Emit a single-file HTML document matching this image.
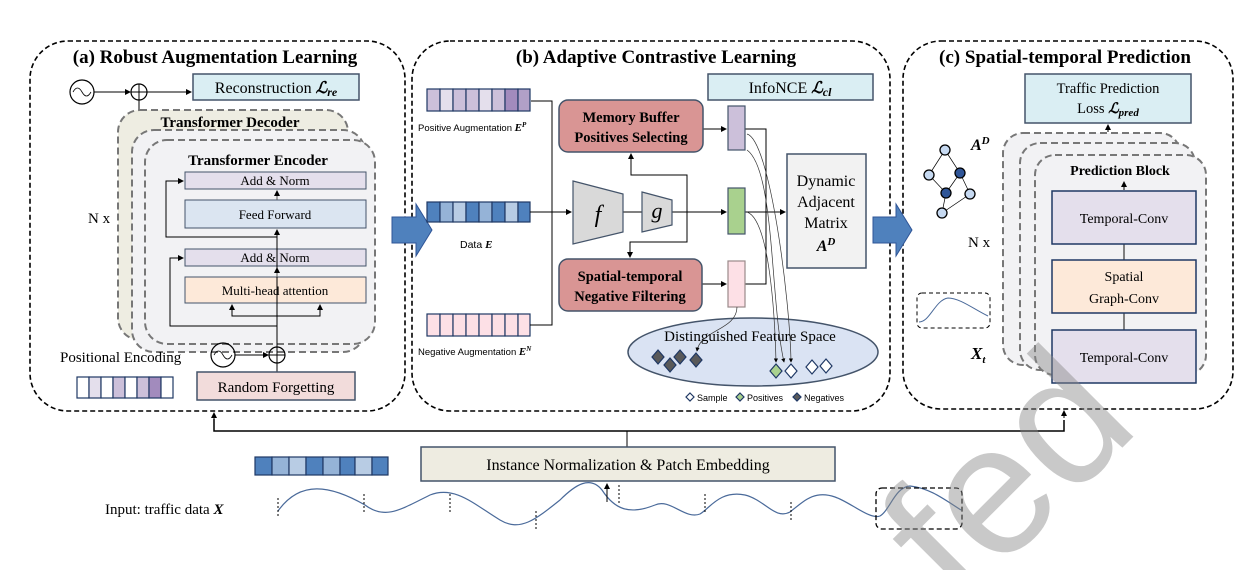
<!DOCTYPE html>
<html><head><meta charset="utf-8"><style>
html,body{margin:0;padding:0;background:#fff;overflow:hidden;width:1258px;height:570px;}
svg{display:block;overflow:hidden;}
.s{font-family:"Liberation Serif",serif;}
.a{font-family:"Liberation Sans",sans-serif;}
</style></head><body>
<svg width="1258" height="570" viewBox="0 0 1258 570" xmlns="http://www.w3.org/2000/svg">
<defs>
<marker id="ar" markerWidth="6" markerHeight="6" refX="5" refY="3" orient="auto"><path d="M0,0 L6,3 L0,6 z" fill="#000"/></marker>
</defs>
<g class="s" fill="none" stroke="#000">
<rect x="30" y="41" width="375" height="370" rx="38" stroke-width="1.6" stroke-dasharray="5,3"/>
<rect x="412" y="41" width="478" height="370" rx="38" stroke-width="1.6" stroke-dasharray="5,3"/>
<rect x="903" y="41" width="330" height="368" rx="38" stroke-width="1.6" stroke-dasharray="5,3"/>
</g>
<g class="s" font-weight="bold" font-size="19" text-anchor="middle" fill="#000">
<text x="215" y="63">(a) Robust Augmentation Learning</text>
<text x="656" y="63">(b) Adaptive Contrastive Learning</text>
<text x="1065" y="63">(c) Spatial-temporal Prediction</text>
</g>

<!-- ===== Panel A ===== -->
<circle cx="82" cy="92" r="12" fill="none" stroke="#000" stroke-width="1.2"/>
<path d="M73,92 q4.5,-8 9,0 t9,0" fill="none" stroke="#000" stroke-width="0.8"/>
<line x1="94" y1="92" x2="130" y2="92" stroke="#000" marker-end="url(#ar)"/>
<circle cx="139" cy="92" r="8" fill="none" stroke="#000" stroke-width="1.2"/>
<path d="M131,92 h16 M139,84 v16" stroke="#000"/>
<line x1="147" y1="92" x2="191" y2="92" stroke="#000" marker-end="url(#ar)"/>
<line x1="139" y1="100" x2="139" y2="110" stroke="#000"/>
<rect x="193" y="74" width="166" height="26" fill="#daeef3" stroke="#44546a" stroke-width="1.5"/>
<text x="276" y="93" class="s" font-size="16" text-anchor="middle">Reconstruction <tspan font-style="italic" font-weight="bold">ℒ</tspan><tspan font-style="italic" font-weight="bold" font-size="12" dy="3">re</tspan></text>

<rect x="118" y="110" width="230" height="230" rx="22" fill="#eeede2" stroke="#777" stroke-width="2" stroke-dasharray="7,4"/>
<rect x="132" y="130" width="233" height="222" rx="22" fill="#f2f2f4" stroke="#777" stroke-width="2" stroke-dasharray="7,4"/>
<rect x="145" y="140" width="230" height="204" rx="22" fill="#f2f2f4" stroke="#777" stroke-width="2" stroke-dasharray="7,4"/>
<text x="230" y="127" class="s" font-weight="bold" font-size="15" text-anchor="middle">Transformer Decoder</text>
<text x="258" y="165" class="s" font-weight="bold" font-size="15" text-anchor="middle">Transformer Encoder</text>
<text x="88" y="223" class="s" font-size="15">N x</text>

<rect x="185" y="172" width="181" height="17" fill="#e4dfec" stroke="#44546a"/>
<text x="275" y="185" class="s" font-size="13" text-anchor="middle">Add &amp; Norm</text>
<rect x="185" y="200" width="181" height="28" fill="#dbe5f1" stroke="#44546a"/>
<text x="275" y="219" class="s" font-size="13" text-anchor="middle">Feed Forward</text>
<rect x="185" y="249" width="181" height="17" fill="#e4dfec" stroke="#44546a"/>
<text x="275" y="262" class="s" font-size="13" text-anchor="middle">Add &amp; Norm</text>
<rect x="185" y="277" width="181" height="26" fill="#fde9d9" stroke="#44546a"/>
<text x="275" y="295" class="s" font-size="13" text-anchor="middle">Multi-head attention</text>
<g stroke="#000" fill="none" stroke-width="1">
<line x1="277" y1="347" x2="277" y2="237"/>
<line x1="277" y1="237" x2="277" y2="230" marker-end="url(#ar)"/>
<line x1="277" y1="200" x2="277" y2="191" marker-end="url(#ar)" stroke="#555"/>
<line x1="277" y1="277" x2="277" y2="268" marker-end="url(#ar)" stroke="#555"/>
<path d="M277,237 H166 V181 H183" marker-end="url(#ar)"/>
<path d="M277,326 H170 V258 H183" marker-end="url(#ar)"/>
<path d="M232,305 V316 H320 V305" />
<line x1="232" y1="316" x2="232" y2="305" marker-end="url(#ar)"/>
<line x1="320" y1="316" x2="320" y2="305" marker-end="url(#ar)"/>
<line x1="277" y1="372" x2="277" y2="362"/>
</g>
<text x="60" y="362" class="s" font-size="15">Positional Encoding</text>
<circle cx="223" cy="355" r="12" fill="none" stroke="#000" stroke-width="1.2"/>
<path d="M214,355 q4.5,-8 9,0 t9,0" fill="none" stroke="#000" stroke-width="0.8"/>
<line x1="235" y1="355" x2="268" y2="355" stroke="#000" marker-end="url(#ar)"/>
<circle cx="277" cy="355" r="8" fill="none" stroke="#000" stroke-width="1.2"/>
<path d="M269,355 h16 M277,347 v16" stroke="#000"/>
<rect x="197" y="372" width="158" height="28" fill="#f2dcdb" stroke="#44546a" stroke-width="1.5"/>
<text x="276" y="392" class="s" font-size="15" text-anchor="middle">Random Forgetting</text>
<g stroke="#1f3864" stroke-width="1.2">
<rect x="77" y="377" width="12" height="21" fill="#fff"/><rect x="89" y="377" width="12" height="21" fill="#e4dfec"/><rect x="101" y="377" width="12" height="21" fill="#fff"/><rect x="113" y="377" width="12" height="21" fill="#ccc0da"/><rect x="125" y="377" width="12" height="21" fill="#fff"/><rect x="137" y="377" width="12" height="21" fill="#ccc0da"/><rect x="149" y="377" width="12" height="21" fill="#a28bbd"/><rect x="161" y="377" width="12" height="21" fill="#fff"/>
</g>

<path d="M392,217 H416 V204 L432,230 L416,256 V243 H392 Z" fill="#4f81bd" stroke="#2f5597"/>
<path d="M873,217 H896 V204 L912,230 L896,256 V243 H873 Z" fill="#4f81bd" stroke="#2f5597"/>

<!-- ===== Panel B ===== -->
<g stroke="#1f3864" stroke-width="1.2">
<rect x="427" y="89" width="13" height="22" fill="#ccc0da"/><rect x="440" y="89" width="13" height="22" fill="#e4dfec"/><rect x="453" y="89" width="13" height="22" fill="#ccc0da"/><rect x="466" y="89" width="13" height="22" fill="#ccc0da"/><rect x="479" y="89" width="13" height="22" fill="#e4dfec"/><rect x="492" y="89" width="13" height="22" fill="#ccc0da"/><rect x="505" y="89" width="13" height="22" fill="#a28bbd"/><rect x="518" y="89" width="12" height="22" fill="#b1a0c7"/>
<rect x="427" y="202" width="13" height="20" fill="#4f81bd"/><rect x="440" y="202" width="13" height="20" fill="#95b3d7"/><rect x="453" y="202" width="13" height="20" fill="#b8cce4"/><rect x="466" y="202" width="13" height="20" fill="#4f81bd"/><rect x="479" y="202" width="13" height="20" fill="#95b3d7"/><rect x="492" y="202" width="13" height="20" fill="#4f81bd"/><rect x="505" y="202" width="13" height="20" fill="#b8cce4"/><rect x="518" y="202" width="12" height="20" fill="#4f81bd"/>
<rect x="427" y="314" width="13" height="22" fill="#fde0e6"/><rect x="440" y="314" width="13" height="22" fill="#fde0e6"/><rect x="453" y="314" width="13" height="22" fill="#fde0e6"/><rect x="466" y="314" width="13" height="22" fill="#fde0e6"/><rect x="479" y="314" width="13" height="22" fill="#fde0e6"/><rect x="492" y="314" width="13" height="22" fill="#fde0e6"/><rect x="505" y="314" width="13" height="22" fill="#fde0e6"/><rect x="518" y="314" width="12" height="22" fill="#fde0e6"/>
</g>
<g class="a" font-size="9.5" fill="#000">
<text x="418" y="131">Positive Augmentation <tspan class="s" font-weight="bold" font-style="italic" font-size="11">E</tspan><tspan class="s" font-weight="bold" font-style="italic" font-size="7" dy="-4">P</tspan></text>
<text x="460" y="248" font-size="10.5">Data <tspan class="s" font-weight="bold" font-style="italic" font-size="11">E</tspan></text>
<text x="418" y="355">Negative Augmentation <tspan class="s" font-weight="bold" font-style="italic" font-size="11">E</tspan><tspan class="s" font-weight="bold" font-style="italic" font-size="7" dy="-4">N</tspan></text>
</g>
<g stroke="#000" fill="none" stroke-width="1">
<path d="M531,101 H552 V325 H530"/>
<line x1="530" y1="212" x2="571" y2="212" marker-end="url(#ar)"/>
<line x1="623" y1="212" x2="642" y2="212"/>
<line x1="672" y1="212" x2="726" y2="212" marker-end="url(#ar)"/>
<path d="M687,212 V175 H631 V154" />
<line x1="631" y1="160" x2="631" y2="154" marker-end="url(#ar)"/>
<path d="M687,212 V242 H630 V257" marker-end="url(#ar)"/>
<line x1="703" y1="129" x2="726" y2="129" marker-end="url(#ar)"/>
<line x1="702" y1="284" x2="726" y2="284" marker-end="url(#ar)"/>
<path d="M745,129 H766 V284 H745"/>
<line x1="745" y1="212" x2="785" y2="212" marker-end="url(#ar)"/>
</g>
<polygon points="573,181 623,194 623,232 573,244" fill="#d9d9d9" stroke="#44546a" stroke-width="1.2"/>
<polygon points="642,192 672,200 672,225 642,232" fill="#d9d9d9" stroke="#44546a" stroke-width="1.2"/>
<text x="598" y="222" class="s" font-style="italic" font-size="24" text-anchor="middle">f</text>
<text x="657" y="218" class="s" font-style="italic" font-size="22" text-anchor="middle">g</text>
<rect x="559" y="100" width="144" height="52" rx="9" fill="#d99594" stroke="#44546a" stroke-width="1.5"/>
<text x="631" y="122" class="s" font-weight="bold" font-size="14.5" text-anchor="middle">Memory Buffer</text>
<text x="631" y="142" class="s" font-weight="bold" font-size="14.5" text-anchor="middle">Positives Selecting</text>
<rect x="559" y="259" width="143" height="52" rx="9" fill="#d99594" stroke="#44546a" stroke-width="1.5"/>
<text x="630" y="281" class="s" font-weight="bold" font-size="14.5" text-anchor="middle">Spatial-temporal</text>
<text x="630" y="301" class="s" font-weight="bold" font-size="14.5" text-anchor="middle">Negative Filtering</text>
<rect x="728" y="106" width="17" height="44" fill="#ccc0da" stroke="#44546a" stroke-width="1.2"/>
<rect x="728" y="188" width="17" height="46" fill="#a9d18e" stroke="#44546a" stroke-width="1.2"/>
<rect x="728" y="261" width="17" height="46" fill="#fde0e6" stroke="#9a8a8a" stroke-width="1.2"/>
<rect x="708" y="74" width="165" height="26" fill="#daeef3" stroke="#44546a" stroke-width="1.5"/>
<text x="790" y="93" class="s" font-size="16" text-anchor="middle">InfoNCE <tspan font-style="italic" font-weight="bold">ℒ</tspan><tspan font-style="italic" font-weight="bold" font-size="12" dy="3">cl</tspan></text>
<rect x="787" y="154" width="79" height="114" fill="#f2f2f2" stroke="#44546a" stroke-width="1.5"/>
<g class="s" font-size="16" text-anchor="middle"><text x="826" y="186">Dynamic</text><text x="826" y="207">Adjacent</text><text x="826" y="228">Matrix</text><text x="826" y="251" font-weight="bold" font-style="italic">A<tspan font-size="11" dy="-6">D</tspan></text></g>
<ellipse cx="753" cy="352" rx="125" ry="34" fill="#dae3f3" stroke="#44546a" stroke-width="1.5"/>
<text x="750" y="341" class="s" font-size="15" text-anchor="middle">Distinguished Feature Space</text>
<g stroke="#333" stroke-width="0.7" fill="none">
<path d="M747,150 C775,170 770,300 784,362" marker-end="url(#ar)"/>
<path d="M747,134 C770,140 790,300 791,362" marker-end="url(#ar)"/>
<path d="M747,212 C770,220 775,320 776,362" marker-end="url(#ar)"/>
<path d="M737,307 C737,330 700,330 697,351" marker-end="url(#ar)"/>
</g>
<g stroke="#1f3864" stroke-width="1.2">
<path d="M658,350 l6,7 l-6,7 l-6,-7z" fill="#595959"/>
<path d="M670,358 l6,7 l-6,7 l-6,-7z" fill="#595959"/>
<path d="M680,350 l6,7 l-6,7 l-6,-7z" fill="#595959"/>
<path d="M696,353 l6,7 l-6,7 l-6,-7z" fill="#595959"/>
<path d="M776,364 l6,7 l-6,7 l-6,-7z" fill="#a9d18e"/>
<path d="M791,364 l6,7 l-6,7 l-6,-7z" fill="#fff"/>
<path d="M812,360 l6,7 l-6,7 l-6,-7z" fill="#fff"/>
<path d="M826,359 l6,7 l-6,7 l-6,-7z" fill="#fff"/>
<path d="M690,393 l4,4 l-4,4 l-4,-4z" fill="#fff"/>
<path d="M740,393 l4,4 l-4,4 l-4,-4z" fill="#a9d18e"/>
<path d="M797,393 l4,4 l-4,4 l-4,-4z" fill="#595959"/>
</g>
<g class="a" font-size="9"><text x="697" y="401">Sample</text><text x="747" y="401">Positives</text><text x="804" y="401">Negatives</text></g>

<!-- ===== Panel C ===== -->
<rect x="1025" y="74" width="166" height="49" fill="#daeef3" stroke="#44546a" stroke-width="1.5"/>
<text x="1108" y="93" class="s" font-size="14.5" text-anchor="middle">Traffic Prediction</text>
<text x="1108" y="113" class="s" font-size="14.5" text-anchor="middle">Loss <tspan font-style="italic" font-weight="bold">ℒ</tspan><tspan font-style="italic" font-weight="bold" font-size="11" dy="3">pred</tspan></text>
<line x1="1108" y1="132" x2="1108" y2="125" stroke="#000" marker-end="url(#ar)"/>
<rect x="1003" y="133" width="177" height="232" rx="20" fill="#f2f2f4" stroke="#777" stroke-width="2" stroke-dasharray="7,4"/>
<rect x="1020" y="143" width="175" height="227" rx="20" fill="#f2f2f4" stroke="#777" stroke-width="2" stroke-dasharray="7,4"/>
<rect x="1035" y="155" width="171" height="220" rx="20" fill="#f2f2f4" stroke="#777" stroke-width="2" stroke-dasharray="7,4"/>
<text x="1120" y="175" class="s" font-weight="bold" font-size="14" text-anchor="middle">Prediction Block</text>
<line x1="1124" y1="190" x2="1124" y2="182" stroke="#000" marker-end="url(#ar)"/>
<line x1="1124" y1="244" x2="1124" y2="330" stroke="#333" stroke-width="1.2"/>
<rect x="1052" y="191" width="144" height="53" fill="#e4dfec" stroke="#1f3864" stroke-width="1.5"/>
<text x="1124" y="223" class="s" font-size="14" text-anchor="middle">Temporal-Conv</text>
<rect x="1052" y="260" width="144" height="53" fill="#fde9d9" stroke="#1f3864" stroke-width="1.5"/>
<text x="1124" y="281" class="s" font-size="14" text-anchor="middle">Spatial</text>
<text x="1124" y="303" class="s" font-size="14" text-anchor="middle">Graph-Conv</text>
<rect x="1052" y="330" width="144" height="53" fill="#e4dfec" stroke="#1f3864" stroke-width="1.5"/>
<text x="1124" y="362" class="s" font-size="14" text-anchor="middle">Temporal-Conv</text>
<g stroke="#000" stroke-width="0.7" fill="none"><path d="M945,150 L929,175 L946,193 L942,213 L970,194 L960,173 L945,150 M946,193 L960,173"/></g>
<g stroke="#000" stroke-width="1.3">
<circle cx="945" cy="150" r="5" fill="#c6d9f1"/><circle cx="929" cy="175" r="5" fill="#c6d9f1"/><circle cx="960" cy="173" r="5" fill="#2f5597"/><circle cx="946" cy="193" r="5" fill="#2f5597"/><circle cx="970" cy="194" r="5" fill="#c6d9f1"/><circle cx="942" cy="213" r="5" fill="#c6d9f1"/>
</g>
<text x="971" y="150" class="s" font-weight="bold" font-style="italic" font-size="16">A<tspan font-size="11" dy="-6">D</tspan></text>
<text x="968" y="247" class="s" font-size="15">N x</text>
<rect x="917" y="293" width="73" height="35" rx="5" fill="none" stroke="#000" stroke-dasharray="4,3"/>
<path d="M919,322 C930,322 935,300 948,298 C960,298 975,310 988,316" fill="none" stroke="#4a6a9a" stroke-width="1"/>
<text x="971" y="359" class="s" font-weight="bold" font-style="italic" font-size="17">X<tspan font-size="11" dy="4">t</tspan></text>

<!-- ===== Bottom ===== -->
<g stroke="#000" fill="none" stroke-width="1.5">
<path d="M214,419 V431 H1064 V420"/>
<line x1="214" y1="421" x2="214" y2="413" marker-end="url(#ar)" stroke-width="1"/>
<line x1="1064" y1="418" x2="1064" y2="411" marker-end="url(#ar)" stroke-width="1"/>
<line x1="627" y1="431" x2="627" y2="447" stroke-width="1"/>
</g>
<rect x="421" y="447" width="414" height="34" fill="#eeece1" stroke="#44546a" stroke-width="1.5"/>
<text x="628" y="470" class="s" font-size="16" text-anchor="middle">Instance Normalization &amp; Patch Embedding</text>
<g stroke="#1f3864" stroke-width="1.2">
<rect x="255" y="457" width="17" height="18" fill="#4f81bd"/><rect x="272" y="457" width="17" height="18" fill="#95b3d7"/><rect x="289" y="457" width="17" height="18" fill="#b8cce4"/><rect x="306" y="457" width="17" height="18" fill="#4f81bd"/><rect x="323" y="457" width="17" height="18" fill="#95b3d7"/><rect x="340" y="457" width="15" height="18" fill="#4f81bd"/><rect x="355" y="457" width="17" height="18" fill="#b8cce4"/><rect x="372" y="457" width="16" height="18" fill="#4f81bd"/>
</g>
<text x="105" y="514" class="s" font-size="15">Input: traffic data <tspan font-weight="bold" font-style="italic">X</tspan></text>
<path d="M278,511 C300,480 330,485 365,505 C385,520 400,510 430,495 C455,485 475,505 500,520 C520,532 535,520 560,500 C575,485 590,475 602,490 C615,510 630,515 655,505 C670,498 685,520 700,514 C710,508 720,490 745,495 C765,500 775,520 790,512 C805,500 815,490 835,497 C850,502 870,520 880,516 C890,510 895,487 910,486 C930,488 945,500 961,510" fill="none" stroke="#4a6a9a" stroke-width="1.2"/>
<g stroke="#000" stroke-dasharray="2,2" stroke-width="1"><line x1="278" y1="498" x2="278" y2="518"/><line x1="364" y1="494" x2="364" y2="514"/><line x1="450" y1="494" x2="450" y2="514"/><line x1="536" y1="511" x2="536" y2="531"/><line x1="619" y1="485" x2="619" y2="505"/><line x1="705" y1="494" x2="705" y2="514"/><line x1="791" y1="502" x2="791" y2="522"/></g>
<line x1="607" y1="502" x2="607" y2="484" stroke="#000" marker-end="url(#ar)"/>
<rect x="876" y="488" width="86" height="41" rx="6" fill="none" stroke="#000" stroke-width="1.3" stroke-dasharray="5,3"/>

<!-- watermark -->
<text x="0" y="0" transform="translate(960,610) rotate(-45)" class="a" font-size="185" fill="#888" fill-opacity="0.45">fed</text>
</svg>
</body></html>
